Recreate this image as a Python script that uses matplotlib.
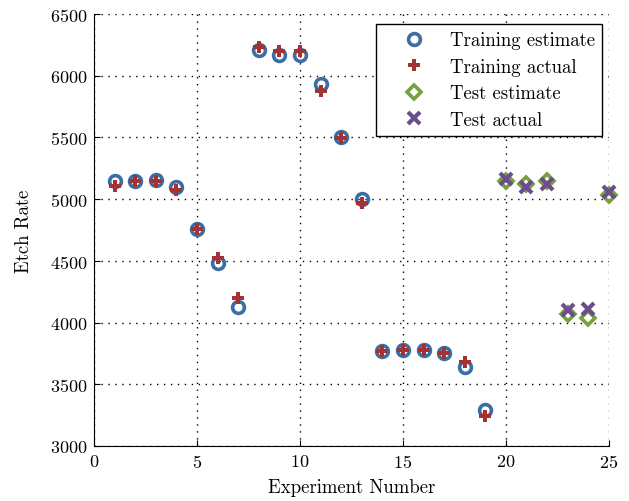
import numpy as np
import matplotlib
matplotlib.use("Agg")
import matplotlib.pyplot as plt

train_x = list(range(1, 20))
train_est = [5149, 5149, 5157, 5100, 4759, 4486, 4127, 6208, 6168, 6168,
             5935, 5500, 5005, 3768, 3781, 3776, 3754, 3643, 3289]
train_act = [5105, 5149, 5146, 5076, 4759, 4527, 4200, 6235, 6200, 6203,
             5878, 5495, 4965, 3768, 3781, 3776, 3754, 3681, 3240]

test_x = [20, 21, 22, 23, 24, 25]
test_est = [5150, 5119, 5145, 4069, 4040, 5035]
test_act = [5165, 5100, 5122, 4100, 4113, 5055]

plt.rcParams['font.family'] = 'cmr10'
plt.rcParams['mathtext.fontset'] = 'cm'
plt.rcParams['axes.formatter.use_mathtext'] = True

fig = plt.figure(figsize=(6.29, 5.02), dpi=100)
ax = fig.add_axes([0.1494, 0.1096, 0.8186, 0.8605])

c_blue = '#3a6ea5'
c_red = '#a43232'
c_green = '#77a13c'
c_purple = '#6b4c8e'

ax.plot(train_x, train_est, 'o', ms=8.5, mfc='none', mec=c_blue, mew=2.6,
        label='Training estimate', zorder=3, clip_on=False)
ax.plot(train_x, train_act, 'P', ms=8.5, mfc=c_red, mec='none', mew=0,
        label='Training actual', zorder=4, clip_on=False)
ax.plot(test_x, test_est, 'D', ms=7, mfc='none', mec=c_green, mew=2.6,
        label='Test estimate', zorder=3, clip_on=False)
ax.plot(test_x, test_act, 'x', ms=9, mec=c_purple, mew=3.0,
        label='Test actual', zorder=4, clip_on=False)

ax.set_xlim(0, 25)
ax.set_ylim(3000, 6500)
ax.set_xticks([0, 5, 10, 15, 20, 25])
ax.set_yticks(np.arange(3000, 6501, 500))
ax.grid(True, color='black', linestyle=(0, (1, 4)), linewidth=1.0)
ax.spines['top'].set_visible(False)
ax.spines['right'].set_visible(False)
ax.tick_params(direction='in', labelsize=13, length=4, pad=5)
ax.set_xlabel('Experiment Number', fontsize=13.5, labelpad=6)
ax.set_ylabel('Etch Rate', fontsize=13.5, labelpad=12)

leg = ax.legend(loc='upper right', fontsize=13.5, fancybox=False, framealpha=1,
                edgecolor='black', bbox_to_anchor=(602 / 629, 1 - 25 / 502),
                bbox_transform=fig.transFigure, borderaxespad=0,
                handlelength=3.27, handletextpad=0.25,
                labelspacing=0.45, numpoints=1)
leg.get_frame().set_linewidth(1.0)

fig.savefig('out.png', dpi=100)
